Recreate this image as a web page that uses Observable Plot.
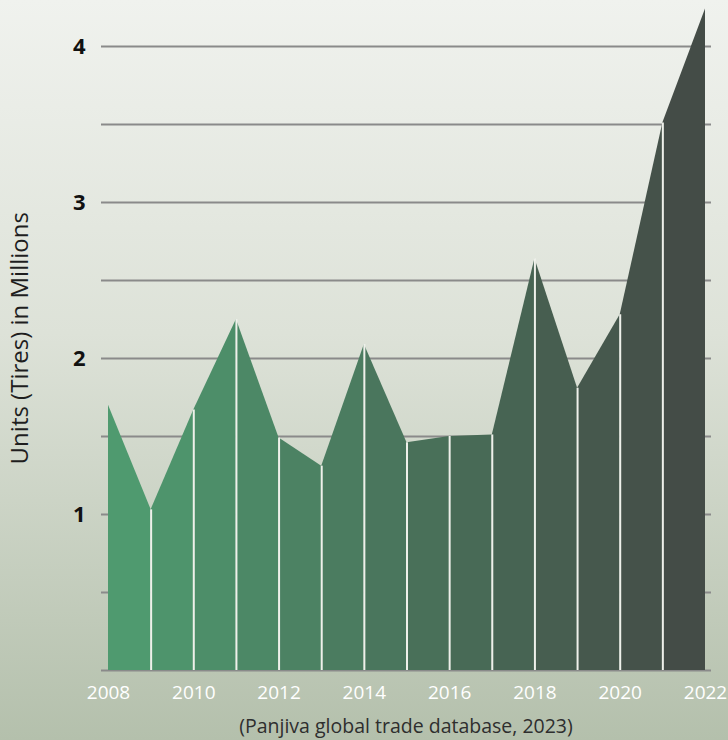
<!DOCTYPE html>
<html>
<head>
<meta charset="utf-8">
<script src="https://cdn.jsdelivr.net/npm/d3@7"></script>
<script src="https://cdn.jsdelivr.net/npm/@observablehq/plot@0.6"></script>
<style>
  html, body { margin: 0; padding: 0; }
  #wrap {
    position: relative; width: 728px; height: 740px; overflow: hidden;
    background: linear-gradient(180deg, #f0f2ee 0%, #dde2d8 45%, #b4c0ac 100%);
    font-family: "Open Sans", "Noto Sans", sans-serif;
  }
  #chart { position: absolute; left: 0; top: 0; }
  #caption {
    position: absolute; left: 0; width: 812px; top: 713px; text-align: center;
    font-size: 19.5px; line-height: 26px; color: #2e2e2e;
  }
</style>
</head>
<body>
<div id="wrap">
  <div id="chart"></div>
  <div id="caption">(Panjiva global trade database, 2023)</div>
</div>
<script>
const years = [2008, 2009, 2010, 2011, 2012, 2013, 2014, 2015, 2016, 2017, 2018, 2019, 2020, 2021, 2022];
const units = [1.70, 1.03, 1.67, 2.25, 1.49, 1.31, 2.09, 1.46, 1.50, 1.51, 2.64, 1.81, 2.28, 3.51, 4.24];
const gridValues = [0.5, 1, 1.5, 2, 2.5, 3, 3.5, 4];
const yTickLabels = [1, 2, 3, 4];
const xTickLabels = [2008, 2010, 2012, 2014, 2016, 2018, 2020, 2022];
const yLabel = "Units (Tires) in Millions";

// segment table: each year-to-year span is its own filled piece
const segs = [];
for (let i = 0; i < years.length - 1; i++) {
  segs.push({seg: i, year: years[i], value: units[i]});
  segs.push({seg: i, year: years[i + 1], value: units[i + 1]});
}
const inner = years.slice(1, -1).map((y, i) => ({year: y, value: units[i + 1]}));

const chart = Plot.plot({
  width: 728,
  height: 710,
  marginLeft: 101,
  marginRight: 17,
  marginTop: 46,
  marginBottom: 40,
  style: {background: "transparent", fontFamily: "Open Sans, Noto Sans, sans-serif"},
  x: {domain: [2008, 2022], insetLeft: 7, insetRight: 6},
  y: {domain: [0, 4]},
  color: {type: "linear", domain: [0, years.length - 2], range: ["#4f9a6f", "#444c47"]},
  marks: [
    Plot.ruleY([0, ...gridValues], {stroke: "#8a8a8a", strokeWidth: 2}),
    Plot.areaY(segs, {x: "year", y1: 0, y2: "value", z: "seg", fill: "seg"}),
    Plot.ruleX(inner, {x: "year", y1: 0, y2: "value", stroke: "#eef0ea", strokeWidth: 2}),
    Plot.axisY(yTickLabels, {tickSize: 0, tickPadding: 16, label: null, fontSize: 22, fontWeight: "bold", fill: "#111", tickFormat: d => d}),
    Plot.axisX(xTickLabels, {tickSize: 0, tickPadding: 15, label: null, fontSize: 19, fill: "#ffffff", tickFormat: d => String(d)}),
    Plot.text([yLabel], {frameAnchor: "left", textAnchor: "middle", dx: -81, rotate: -90, fontSize: 24, fill: "#1e1e1e", text: d => d, y: () => 2.13})
  ]
});
document.getElementById("chart").appendChild(chart);
</script>
</body>
</html>
